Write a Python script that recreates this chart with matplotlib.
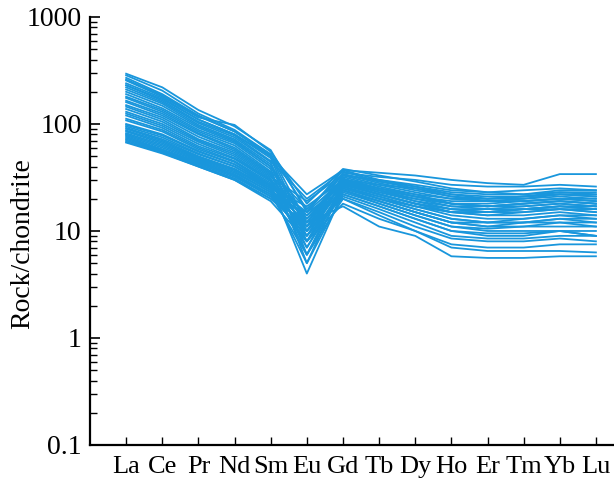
import matplotlib
matplotlib.use('Agg')
import matplotlib.pyplot as plt
from matplotlib.ticker import LogLocator, NullFormatter, FixedLocator, FixedFormatter

# REE elements (x axis)
elements = ['La', 'Ce', 'Pr', 'Nd', 'Sm', 'Eu', 'Gd', 'Tb', 'Dy', 'Ho', 'Er', 'Tm', 'Yb', 'Lu']

# y axis tick labels
y_ticks = [0.1, 1, 10, 100, 1000]
y_labels = ['0.1', '1', '10', '100', '1000']

# Chondrite-normalised values, one row per sample
samples = [
    [295, 220, 135, 95, 57, 15, 37, 35, 33, 30, 28, 27, 34, 34],
    [285, 205, 125, 88, 52, 12, 35, 32, 30, 27, 26, 26, 27, 26],
    [270, 190, 120, 85, 50, 10, 33, 30, 27, 24, 23, 24, 25, 24],
    [255, 180, 115, 98, 55, 18, 38, 33, 29, 25, 23, 22, 23, 22],
    [240, 175, 110, 80, 48, 8, 30, 27, 25, 22, 21, 21, 22, 21],
    [230, 165, 105, 78, 45, 20, 36, 29, 25, 21, 19, 19, 20, 19],
    [220, 160, 102, 75, 44, 6, 28, 24, 21, 18, 17, 18, 19, 18],
    [210, 155, 98, 72, 42, 11, 32, 26, 22, 18, 17, 17, 18, 17],
    [200, 148, 95, 70, 40, 9, 29, 24, 20, 17, 16, 16, 17, 16],
    [190, 140, 92, 68, 40, 13, 31, 25, 21, 19, 19, 20, 21, 20],
    [180, 135, 88, 66, 38, 5, 27, 22, 18, 15, 14, 14, 15, 14],
    [175, 130, 85, 63, 36, 16, 33, 27, 23, 20, 20, 21, 22, 21],
    [165, 125, 82, 60, 35, 7, 26, 21, 17, 14, 13, 13, 14, 13],
    [160, 120, 80, 58, 34, 12, 30, 24, 19, 16, 15, 15, 16, 15],
    [150, 115, 76, 56, 33, 10, 28, 22, 18, 15, 14, 15, 16, 16],
    [145, 110, 72, 54, 32, 19, 34, 28, 24, 21, 20, 20, 22, 22],
    [138, 105, 70, 52, 31, 8, 25, 20, 16, 13, 12, 12, 13, 12],
    [130, 100, 68, 50, 30, 14, 29, 23, 19, 17, 17, 18, 19, 18],
    [125, 96, 65, 48, 30, 6, 24, 19, 15, 12, 11, 11, 12, 11],
    [120, 92, 62, 47, 29, 11, 27, 22, 18, 16, 15, 16, 17, 17],
    [112, 88, 60, 45, 28, 9, 26, 21, 17, 15, 15, 16, 17, 16],
    [108, 85, 58, 44, 27, 15, 30, 25, 22, 20, 19, 19, 20, 19],
    [100, 80, 56, 42, 27, 4, 23, 18, 14, 11, 10, 10, 10, 9],
    [98, 78, 55, 42, 26, 13, 28, 23, 20, 18, 18, 19, 20, 20],
    [95, 75, 53, 40, 26, 7, 24, 19, 15, 12, 11, 12, 12, 12],
    [92, 72, 52, 40, 25, 10, 25, 20, 17, 15, 15, 16, 16, 15],
    [90, 70, 50, 38, 25, 17, 30, 25, 21, 18, 17, 18, 19, 18],
    [87, 68, 49, 38, 24, 5, 22, 17, 13, 10, 9, 9, 10, 9],
    [85, 66, 48, 37, 24, 12, 26, 20, 16, 13, 12, 13, 14, 14],
    [82, 64, 47, 36, 23, 8, 22, 17, 13, 10, 9.5, 9.5, 10, 10],
    [80, 62, 46, 35, 23, 14, 27, 22, 18, 16, 16, 17, 18, 17],
    [78, 60, 45, 34, 22, 11, 24, 19, 15, 12, 12, 12, 13, 13],
    [76, 58, 44, 33, 22, 6, 20, 15, 11, 8.5, 8, 8, 8.5, 8],
    [74, 57, 43, 33, 21, 9, 21, 16, 12, 9, 8.5, 8.5, 9, 9],
    [72, 56, 42, 32, 21, 15, 24, 18, 14, 11, 10.5, 11, 11, 11],
    [70, 55, 41, 31, 20, 10, 20, 14, 10, 7.5, 7, 7, 7.5, 7.5],
    [68, 54, 40, 30, 20, 12, 17, 11, 9, 5.8, 5.6, 5.6, 5.8, 5.8],
    [67, 53, 40, 30, 19, 8, 18, 13, 10, 7, 6.5, 6.5, 6.5, 6.3],
    [230, 170, 110, 80, 50, 22, 37, 30, 26, 23, 22, 22, 24, 24],
    [260, 185, 118, 85, 52, 16, 34, 29, 26, 22, 20, 21, 23, 23],
]

line_color = '#1996dc'

plt.rcParams['font.family'] = ['Liberation Serif', 'DejaVu Serif']

fig = plt.figure(figsize=(6.14, 4.82), dpi=100)
ax = fig.add_axes([0.1466, 0.0768, 0.8534, 0.888])

x = list(range(len(elements)))
for row in samples:
    ax.plot(x, row, color=line_color, linewidth=1.3)

ax.set_yscale('log')
ax.set_ylim(0.1, 1000)
ax.set_xlim(-1, 13.5)

ax.yaxis.set_major_locator(FixedLocator(y_ticks))
ax.yaxis.set_major_formatter(FixedFormatter(y_labels))
ax.yaxis.set_minor_locator(LogLocator(base=10, subs=range(2, 10)))
ax.yaxis.set_minor_formatter(NullFormatter())

ax.set_xticks(x)
ax.set_xticklabels(elements)

for side in ['top', 'right']:
    ax.spines[side].set_visible(False)
for side in ['left', 'bottom']:
    ax.spines[side].set_linewidth(1.6)

ax.tick_params(axis='y', which='major', direction='in', length=7, width=1.2,
               labelsize=20, pad=6)
ax.tick_params(axis='y', which='minor', direction='in', length=5, width=1.0)
ax.tick_params(axis='x', which='major', direction='in', length=6, width=1.0,
               labelsize=19, pad=8)

ax.set_ylabel('Rock/chondrite', fontsize=20)
ax.yaxis.set_label_coords(-0.105, 0.47)

fig.savefig('out.png', dpi=100)
